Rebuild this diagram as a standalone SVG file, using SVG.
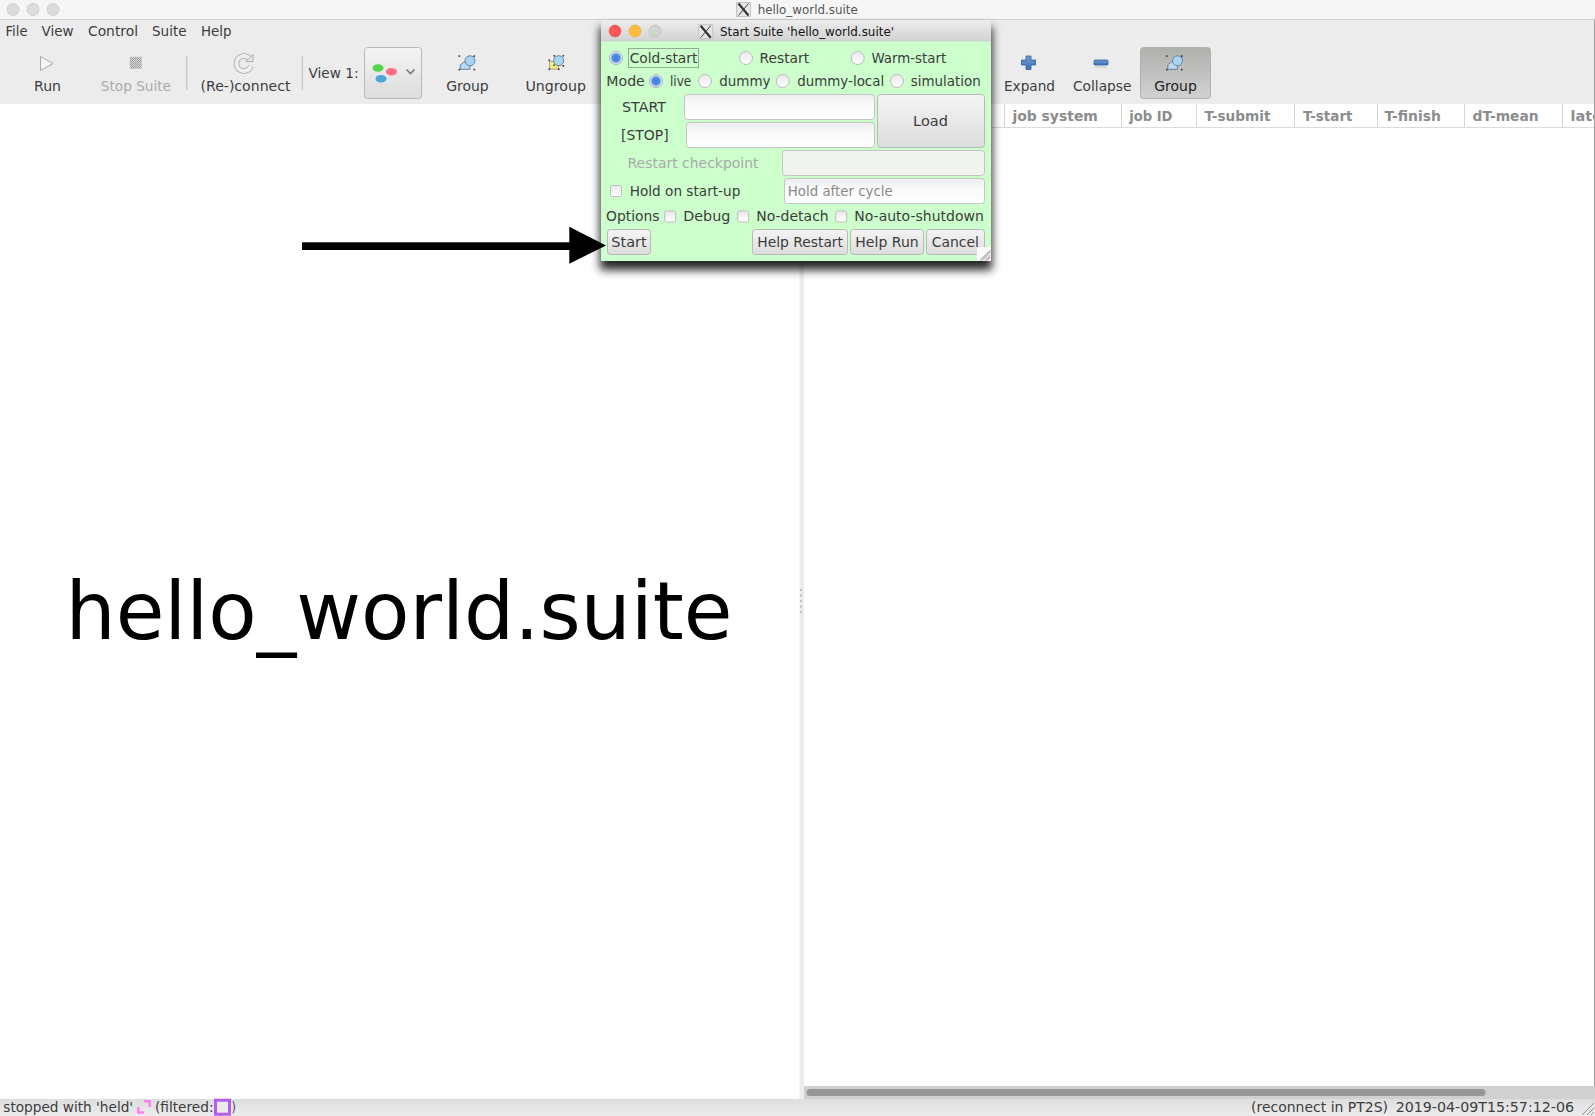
<svg xmlns="http://www.w3.org/2000/svg" width="1595" height="1116" viewBox="0 0 1595 1116">
<style>
text{font-family:"DejaVu Sans","Liberation Sans",sans-serif;font-size:14.5px;fill:#3c3c3c}
.dim{fill:#aaa}
.hd{font-weight:bold;fill:#8c8c8c}
.sep{stroke:#d4d4d4;stroke-width:1}
.entry{fill:url(#ent);stroke:#c4c4c4;stroke-width:1}
.btn{fill:url(#btn);stroke:#b8b8b8;stroke-width:1}
.radio{fill:url(#rad);stroke:#bcbcbc;stroke-width:1}
.on{fill:url(#radon);stroke:#a8b8c4;stroke-width:1}
.chk{fill:url(#rad);stroke:#bcbcbc;stroke-width:1}
.grip{stroke:#8f8f8f;stroke-width:1;fill:none}
</style>
<defs>
<linearGradient id="ent" x1="0" y1="0" x2="0" y2="1"><stop offset="0" stop-color="#eeeeee"/><stop offset=".45" stop-color="#fafafa"/><stop offset="1" stop-color="#fff"/></linearGradient>
<linearGradient id="btn" x1="0" y1="0" x2="0" y2="1"><stop offset="0" stop-color="#f4f4f4"/><stop offset="1" stop-color="#dcdcdc"/></linearGradient>
<linearGradient id="act" x1="0" y1="0" x2="0" y2="1"><stop offset="0" stop-color="#aeb0ac"/><stop offset="1" stop-color="#d2d2d2"/></linearGradient>
<linearGradient id="rad" x1="0" y1="0" x2="0" y2="1"><stop offset="0" stop-color="#e8e8e8"/><stop offset="1" stop-color="#fff"/></linearGradient>
<radialGradient id="radon"><stop offset="0" stop-color="#3a78dc"/><stop offset=".66" stop-color="#5c95e6"/><stop offset=".8" stop-color="#dbe6ee"/><stop offset="1" stop-color="#d6dfe4"/></radialGradient>
<linearGradient id="tb" x1="0" y1="0" x2="0" y2="1"><stop offset="0" stop-color="#ededed"/><stop offset="1" stop-color="#d2d2d2"/></linearGradient>
<linearGradient id="st" x1="0" y1="0" x2="0" y2="1"><stop offset="0" stop-color="#dedede"/><stop offset="1" stop-color="#ececec"/></linearGradient>
<linearGradient id="blue" x1="0" y1="0" x2="0" y2="1"><stop offset="0" stop-color="#6f9bd6"/><stop offset="1" stop-color="#3f6fb4"/></linearGradient>
<filter id="shadow" x="-10%" y="-10%" width="120%" height="125%"><feGaussianBlur stdDeviation="5"/></filter>
<pattern id="dots" width="2" height="2" patternUnits="userSpaceOnUse"><rect width="2" height="2" fill="#dcdcdc"/><rect width="1" height="1" fill="#999"/><rect x="1" y="1" width="1" height="1" fill="#999"/></pattern>
<g id="corners" fill="#333"><rect x="-8.500" y="-7.500" width="1.600" height="1.600"/><rect x="6.500" y="-7.500" width="1.600" height="1.600"/><rect x="-8.500" y="6" width="1.600" height="1.600"/><rect x="6.500" y="6" width="1.600" height="1.600"/></g>
<g id="groupicon"><path d="M-6.700 6.500 V2 L-3 -1 H3 V6.500Z" fill="#bcd8ee" stroke="#5b7da0" stroke-width=".9"/><circle cx="3" cy="-2" r="5" fill="#a9d4f2" stroke="#5b7da0" stroke-width=".9"/><use href="#corners"/></g>
<g id="xicon"><rect x="-7" y="-7" width="14" height="14" fill="#e6e6e6" stroke="#c4c4c4"/><path d="M-5 -6 L5 6" stroke="#333" stroke-width="2.200"/><path d="M5 -6 L-5 6" stroke="#444" stroke-width="1"/></g>
</defs>

<rect width="1595" height="1116" fill="#fff"/>

<g id="titlebar">
<rect width="1595" height="19.500" fill="#f6f6f6"/>
<line x1="0" y1="19.500" x2="1595" y2="19.500" stroke="#cfcfcf"/>
<circle cx="13" cy="9.500" r="6" fill="#dcdcdc" stroke="#d0d0d0"/>
<circle cx="33" cy="9.500" r="6" fill="#dcdcdc" stroke="#d0d0d0"/>
<circle cx="53" cy="9.500" r="6" fill="#dcdcdc" stroke="#d0d0d0"/>
<use href="#xicon" x="743.500" y="9.500"/>
<text x="757.700" y="14" textLength="100" lengthAdjust="spacingAndGlyphs" style="font-size:13px;fill:#555">hello_world.suite</text>
</g>

<g id="toolbar">
<rect y="20" width="1595" height="84" fill="#ececec"/>
<text x="5.500" y="36" textLength="22" lengthAdjust="spacingAndGlyphs">File</text>
<text x="41.500" y="36" textLength="32" lengthAdjust="spacingAndGlyphs">View</text>
<text x="88" y="36" textLength="50" lengthAdjust="spacingAndGlyphs">Control</text>
<text x="152" y="36" textLength="34.500" lengthAdjust="spacingAndGlyphs">Suite</text>
<text x="201" y="36" textLength="30.500" lengthAdjust="spacingAndGlyphs">Help</text>

<path d="M40.500 56.500 L53 63.500 L40.500 70.500Z" fill="#f6f6f6" stroke="#a8a8a8"/>
<text x="34" y="90.500" textLength="27" lengthAdjust="spacingAndGlyphs">Run</text>
<rect x="130" y="57" width="11.500" height="11.500" fill="url(#dots)" stroke="#bbb" stroke-width=".5"/>
<text class="dim" x="100.800" y="90.500" textLength="70.200" lengthAdjust="spacingAndGlyphs">Stop Suite</text>
<line class="sep" x1="186.800" y1="56" x2="186.800" y2="90" style="stroke:#bdbdbd"/>
<g fill="none">
<path d="M249.500 58.500 A7.500 7.500 0 1 0 251 66" stroke="#a8a8a8" stroke-width="5.500"/>
<path d="M249.500 58.500 A7.500 7.500 0 1 0 251 66" stroke="#efefef" stroke-width="3.800"/>
</g>
<path d="M246 61.500 L253 61.500 L253 54.500 Z" fill="#e8e8e8" stroke="#a0a0a0" stroke-width=".8"/>
<text x="200.500" y="90.500" textLength="90" lengthAdjust="spacingAndGlyphs">(Re-)connect</text>
<line class="sep" x1="302.300" y1="56" x2="302.300" y2="90" style="stroke:#bdbdbd"/>
<text x="308.500" y="78" textLength="50" lengthAdjust="spacingAndGlyphs">View 1:</text>
<rect x="364.500" y="47.500" width="57" height="51" rx="3" class="btn"/>
<ellipse cx="378" cy="68" rx="5.500" ry="3.800" fill="#55d44e"/>
<ellipse cx="391.500" cy="71.700" rx="5.500" ry="3.800" fill="#ff6f8a"/>
<ellipse cx="381" cy="78.700" rx="5.500" ry="3.800" fill="#4aa6d8"/>
<path d="M406.500 69.500 L410.500 73.500 L414.500 69.500" fill="none" stroke="#777" stroke-width="1.600"/>
<use href="#groupicon" x="467" y="62.800"/>
<text x="446.200" y="90.500" textLength="42.500" lengthAdjust="spacingAndGlyphs">Group</text>
<rect x="549.700" y="61.700" width="8.600" height="7.300" fill="#f2ee8e" stroke="#8a8a50" stroke-width=".7"/>
<rect x="553.300" y="64.500" width="1.500" height="1.500" fill="#333"/>
<circle cx="558.700" cy="60.700" r="5" fill="#a9d4f2" stroke="#5b7da0" stroke-width=".9"/>
<g fill="#333"><rect x="553.500" y="55" width="1.600" height="1.600"/><rect x="562.500" y="55" width="1.600" height="1.600"/><rect x="548.500" y="59.500" width="1.600" height="1.600"/><rect x="548.500" y="68.500" width="1.600" height="1.600"/><rect x="562.500" y="65" width="1.600" height="1.600"/><rect x="558" y="68.500" width="1.600" height="1.600"/></g>
<text x="525.500" y="90.500" textLength="60.500" lengthAdjust="spacingAndGlyphs">Ungroup</text>

<path d="M1026 56 H1031 V60 H1035.500 V65 H1031 V69.500 H1026 V65 H1021.500 V60 H1026Z" fill="url(#blue)" stroke="#2f5f9f" stroke-width=".8"/>
<text x="1004" y="90.500" textLength="51" lengthAdjust="spacingAndGlyphs">Expand</text>
<rect x="1094" y="60" width="14" height="5" rx="1" fill="url(#blue)" stroke="#2f5f9f" stroke-width=".8"/>
<rect x="1095" y="66" width="12" height="2" fill="#d8d8d8"/>
<text x="1073" y="90.500" textLength="58.500" lengthAdjust="spacingAndGlyphs">Collapse</text>
<rect x="1140.500" y="47.500" width="70" height="51" rx="3" fill="url(#act)" stroke="#b0b0b0"/>
<use href="#groupicon" x="1174.500" y="62.800"/>
<text x="1154.300" y="90.500" textLength="42.500" lengthAdjust="spacingAndGlyphs" style="fill:#222">Group</text>
</g>

<g id="task-table">
<line x1="804" y1="127.500" x2="1595" y2="127.500" stroke="#dcdcdc"/>
<g class="sep">
<line x1="1004.500" y1="104" x2="1004.500" y2="127"/><line x1="1121.500" y1="104" x2="1121.500" y2="127"/><line x1="1196.500" y1="104" x2="1196.500" y2="127"/><line x1="1294.500" y1="104" x2="1294.500" y2="127"/><line x1="1377.500" y1="104" x2="1377.500" y2="127"/><line x1="1464.500" y1="104" x2="1464.500" y2="127"/><line x1="1562.500" y1="104" x2="1562.500" y2="127"/>
</g>
<text class="hd" x="1012.400" y="120.500" textLength="85.500" lengthAdjust="spacingAndGlyphs">job system</text>
<text class="hd" x="1129.300" y="120.500" textLength="43.200" lengthAdjust="spacingAndGlyphs">job ID</text>
<text class="hd" x="1204.500" y="120.500" textLength="66" lengthAdjust="spacingAndGlyphs">T-submit</text>
<text class="hd" x="1303" y="120.500" textLength="49.500" lengthAdjust="spacingAndGlyphs">T-start</text>
<text class="hd" x="1384.500" y="120.500" textLength="56.500" lengthAdjust="spacingAndGlyphs">T-finish</text>
<text class="hd" x="1472.600" y="120.500" textLength="66" lengthAdjust="spacingAndGlyphs">dT-mean</text>
<text class="hd" x="1570.500" y="120.500">late</text>
<line x1="1594.500" y1="20" x2="1594.500" y2="1099" stroke="#a0a0a0"/>
</g>

<g id="divider">
<rect x="799.500" y="104" width="4.500" height="995" fill="#ececec"/>
<g fill="#bdbdbd"><rect x="800" y="589" width="2" height="2"/><rect x="800" y="594.500" width="2" height="2"/><rect x="800" y="600" width="2" height="2"/><rect x="800" y="605.500" width="2" height="2"/><rect x="800" y="611" width="2" height="2"/></g>
</g>

<g id="graph-title">
<text x="65.500" y="638.700" textLength="667" lengthAdjust="spacingAndGlyphs" style="font-size:81px;fill:#000">hello_world.suite</text>
</g>

<g id="statusbar">
<rect x="804" y="1086" width="791" height="13" fill="#d0d0d0"/>
<rect x="806.500" y="1089" width="679" height="7" rx="3.500" fill="#969696"/>
<rect y="1099" width="1595" height="17" fill="url(#st)"/>
<text x="3.300" y="1112" textLength="129.800" lengthAdjust="spacingAndGlyphs">stopped with 'held'</text>
<path d="M144 1100 H151 V1107 H148.500 V1102.500 H144Z M137 1107 H139.500 V1111.200 H144 V1113.700 H137Z" fill="#ff80f0"/>
<text x="155" y="1112" textLength="58.500" lengthAdjust="spacingAndGlyphs">(filtered:</text>
<rect x="215.500" y="1100.200" width="14" height="14" fill="#ebebeb" stroke="#b45cf5" stroke-width="3"/>
<text x="231.700" y="1112" textLength="4" lengthAdjust="spacingAndGlyphs">)</text>
<text x="1251" y="1112" textLength="137" lengthAdjust="spacingAndGlyphs">(reconnect in PT2S)</text>
<text x="1395.700" y="1112" textLength="178.300" lengthAdjust="spacingAndGlyphs">2019-04-09T15:57:12-06</text>
<path class="grip" d="M1582 1115 L1594 1103 M1587 1115 L1594 1108 M1591 1115 L1594 1112"/>
</g>

<g id="dialog">
<rect x="600" y="27" width="392" height="243" fill="#000" opacity=".85" filter="url(#shadow)"/>
<path d="M601 261 V24 Q601 20 605 20 H987 Q991 20 991 24 V261Z" fill="#ccffcc"/>
<path d="M601 41.500 V24 Q601 20 605 20 H987 Q991 20 991 24 V41.500Z" fill="url(#tb)"/>
<circle cx="615" cy="31" r="6" fill="#fc5753" stroke="#df4744" stroke-width=".5"/>
<circle cx="635" cy="31" r="6" fill="#fdbc40" stroke="#de9f34" stroke-width=".5"/>
<circle cx="655" cy="31" r="6" fill="#cdd5cd" stroke="#a9b0a9" stroke-width=".5"/>
<use href="#xicon" x="705.700" y="31.700"/>
<text x="720" y="36" textLength="174" lengthAdjust="spacingAndGlyphs" style="font-size:13px;fill:#111">Start Suite 'hello_world.suite'</text>

<circle class="on" cx="616" cy="58" r="6.500"/>
<rect x="628.500" y="48.500" width="70" height="19" fill="none" stroke="#8fb08f"/>
<text x="629.700" y="63.300" textLength="67.600" lengthAdjust="spacingAndGlyphs">Cold-start</text>
<circle class="radio" cx="746" cy="58" r="6.500"/>
<text x="759.500" y="63.300" textLength="49.700" lengthAdjust="spacingAndGlyphs">Restart</text>
<circle class="radio" cx="857.700" cy="58" r="6.500"/>
<text x="871.500" y="63.300" textLength="74.700" lengthAdjust="spacingAndGlyphs">Warm-start</text>

<text x="606.300" y="86" textLength="38.500" lengthAdjust="spacingAndGlyphs">Mode</text>
<circle class="on" cx="656" cy="81" r="6.500"/>
<text x="670" y="86" textLength="21.200" lengthAdjust="spacingAndGlyphs">live</text>
<circle class="radio" cx="705" cy="81" r="6.500"/>
<text x="719.200" y="86" textLength="51.300" lengthAdjust="spacingAndGlyphs">dummy</text>
<circle class="radio" cx="782.700" cy="81" r="6.500"/>
<text x="797.200" y="86" textLength="87" lengthAdjust="spacingAndGlyphs">dummy-local</text>
<circle class="radio" cx="897" cy="81" r="6.500"/>
<text x="910.700" y="86" textLength="70" lengthAdjust="spacingAndGlyphs">simulation</text>

<text x="622" y="112" textLength="44" lengthAdjust="spacingAndGlyphs">START</text>
<rect class="entry" x="684.500" y="94.500" width="190" height="25" rx="3"/>
<text x="621" y="140" textLength="47.700" lengthAdjust="spacingAndGlyphs">[STOP]</text>
<rect class="entry" x="686.500" y="122.500" width="188" height="25" rx="3"/>
<rect class="btn" x="877.500" y="94.500" width="107" height="53" rx="3"/>
<text x="930.500" y="126" text-anchor="middle">Load</text>

<text class="dim" x="627.500" y="168" textLength="131" lengthAdjust="spacingAndGlyphs">Restart checkpoint</text>
<rect x="782.500" y="150.500" width="202" height="25" rx="3" fill="#f1f3ef" stroke="#c4c4c4"/>

<rect class="chk" x="610.500" y="185.500" width="11" height="11" rx="2"/>
<text x="629.700" y="196" textLength="110.600" lengthAdjust="spacingAndGlyphs">Hold on start-up</text>
<rect class="entry" x="784.500" y="178.500" width="200" height="25" rx="3"/>
<text x="787.800" y="196" textLength="105" lengthAdjust="spacingAndGlyphs" style="fill:#8a8a8a">Hold after cycle</text>

<text x="606" y="221" textLength="53.500" lengthAdjust="spacingAndGlyphs">Options</text>
<rect class="chk" x="664.700" y="211" width="11" height="11" rx="2"/>
<text x="683.300" y="221" textLength="47" lengthAdjust="spacingAndGlyphs">Debug</text>
<rect class="chk" x="737.700" y="211" width="11" height="11" rx="2"/>
<text x="756.300" y="221" textLength="72.400" lengthAdjust="spacingAndGlyphs">No-detach</text>
<rect class="chk" x="835.700" y="211" width="11" height="11" rx="2"/>
<text x="854.300" y="221" textLength="129.500" lengthAdjust="spacingAndGlyphs">No-auto-shutdown</text>

<rect class="btn" x="607.500" y="229.500" width="43" height="25" rx="3"/>
<text x="629" y="247" text-anchor="middle">Start</text>
<rect class="btn" x="752.500" y="229.500" width="95" height="25" rx="3"/>
<text x="757.300" y="247" textLength="85.700" lengthAdjust="spacingAndGlyphs">Help Restart</text>
<rect class="btn" x="850.500" y="229.500" width="73" height="25" rx="3"/>
<text x="855.300" y="247" textLength="63.400" lengthAdjust="spacingAndGlyphs">Help Run</text>
<rect class="btn" x="926.500" y="229.500" width="58" height="25" rx="3"/>
<text x="931.700" y="247" textLength="47.300" lengthAdjust="spacingAndGlyphs">Cancel</text>
<rect x="977" y="247" width="14" height="14" fill="#fafafa"/>
<path class="grip" d="M980 260.500 L990.500 250 M982 260.500 L990.500 252 M985 260.500 L990.500 255 M987 260.500 L990.500 257"/>
</g>

<g id="connectors">
<rect x="302" y="242.300" width="270" height="7.700" fill="#000"/>
<path d="M569.300 226.700 L606 245.500 L569.300 263.700Z" fill="#000"/>
</g>
</svg>
